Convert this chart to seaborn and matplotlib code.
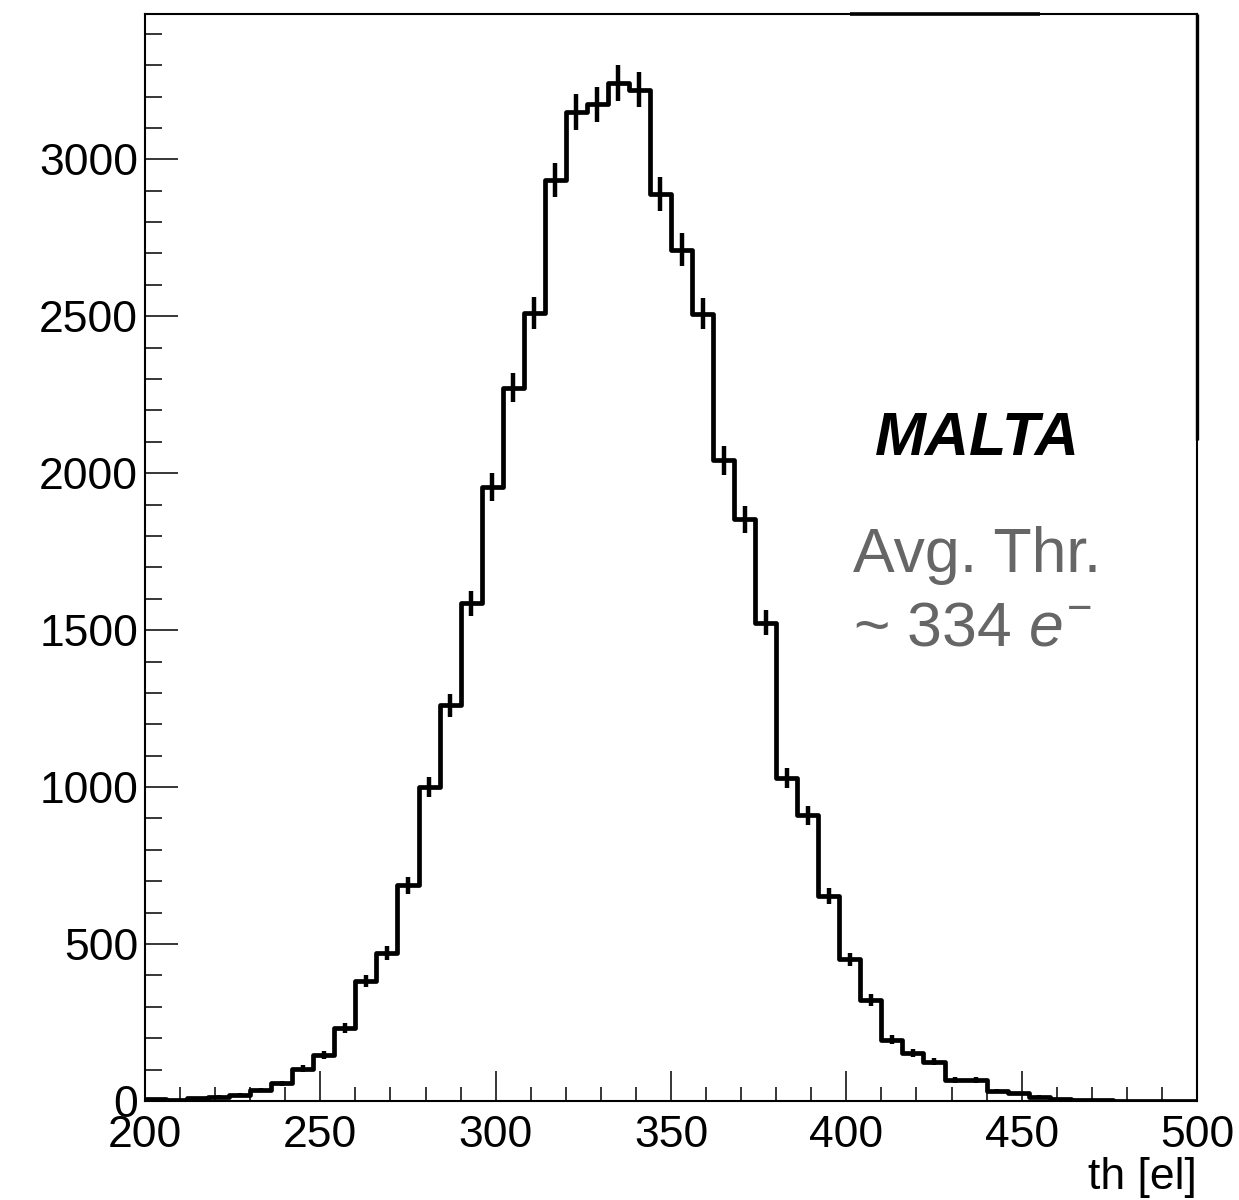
import numpy as np
import pandas as pd
import matplotlib
matplotlib.use("Agg")
import matplotlib.pyplot as plt
import seaborn as sns
from matplotlib.ticker import MultipleLocator

# ---- data ----
bin_edges = list(range(200, 501, 6))
bin_left = bin_edges[:-1]
counts = [6, 3, 10, 14, 20, 35, 56, 103, 147, 232,
          383, 471, 687, 1001, 1260, 1585, 1957, 2273, 2510, 2933,
          3151, 3175, 3243, 3222, 2889, 2712, 2508, 2041, 1854, 1524,
          1028, 911, 654, 451, 322, 195, 154, 125, 67, 67,
          32, 25, 14, 7, 3, 2, 1, 1, 1, 0]
x_label = "th [el]"
title_text = "MALTA"
info_line1 = "Avg. Thr."
info_line2 = r"~ 334 $\mathit{e}^{-}$"

sns.set_style("ticks")
plt.rcParams["font.family"] = ["Liberation Sans", "DejaVu Sans"]
plt.rcParams["mathtext.fontset"] = "custom"
plt.rcParams["mathtext.rm"] = "Liberation Sans"
plt.rcParams["mathtext.it"] = "Liberation Sans:italic"
for k in ["text.color", "axes.labelcolor", "xtick.color", "ytick.color", "axes.edgecolor"]:
    plt.rcParams[k] = "black"

df = pd.DataFrame({"x": [l + 3 for l in bin_left], "w": counts})

fig = plt.figure(figsize=(12.39, 12.0), dpi=100)
ax = fig.add_axes([145 / 1239, 1 - 1101 / 1200, (1197 - 145) / 1239, (1101 - 14) / 1200])

sns.histplot(data=df, x="x", weights="w", bins=bin_edges, element="step",
             fill=False, color="black", linewidth=3.4, ax=ax)

centers = np.array(df["x"], dtype=float)
vals = np.array(counts, dtype=float)
errs = np.sqrt(vals)
ax.errorbar(centers, vals, yerr=errs, fmt="none", ecolor="black",
            elinewidth=3.2, capsize=0)

ax.set_xlim(200, 500)
ax.set_ylim(0, 3463)
ax.xaxis.set_major_locator(MultipleLocator(50))
ax.xaxis.set_minor_locator(MultipleLocator(10))
ax.yaxis.set_major_locator(MultipleLocator(500))
ax.yaxis.set_minor_locator(MultipleLocator(100))

ax.tick_params(axis="both", which="both", direction="in", top=False, right=False,
               width=1.1, color="black", labelcolor="black", labelsize=32)
ax.tick_params(axis="y", which="major", length=24, pad=5)
ax.tick_params(axis="y", which="minor", length=12)
ax.tick_params(axis="x", which="major", length=21.5, pad=10)
ax.tick_params(axis="x", which="minor", length=10)

for s in ax.spines.values():
    s.set_linewidth(1.5)
    s.set_color("black")
    s.set_visible(True)

ax.set_ylabel("")
ax.set_xlabel(x_label, fontsize=32, loc="right", labelpad=1, color="black")

# remnants of the stat-box border drawn over the frame
ax.plot([0.670, 0.851], [1.0, 1.0], transform=ax.transAxes, color="black",
        lw=2.6, clip_on=False, solid_capstyle="butt")
ax.plot([1.0, 1.0], [0.608, 1.0], transform=ax.transAxes, color="black",
        lw=2.4, clip_on=False, solid_capstyle="butt")

ax.text((977 - 145) / 1052, (1101 - 455) / 1087, title_text, transform=ax.transAxes,
        fontsize=44, fontweight="bold", fontstyle="italic", ha="center",
        va="baseline", color="black")
ax.text((853 - 145) / 1052, (1101 - 572) / 1087, info_line1, transform=ax.transAxes,
        fontsize=45, ha="left", va="baseline", color="#666666")
ax.text((853 - 145) / 1052, (1101 - 645) / 1087, info_line2, transform=ax.transAxes,
        fontsize=45, ha="left", va="baseline", color="#666666")

fig.savefig("out.png", dpi=100)
